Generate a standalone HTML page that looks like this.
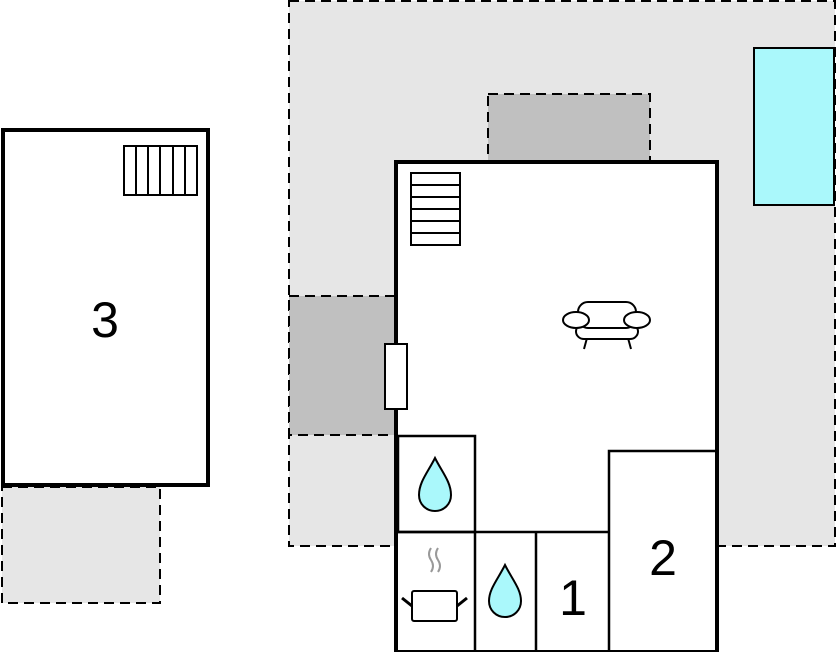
<!DOCTYPE html>
<html><head><meta charset="utf-8"><style>
html,body{margin:0;padding:0;background:#fff;}
svg{display:block;}
text{font-family:"Liberation Sans",sans-serif;fill:#000;}
</style></head><body>
<svg width="836" height="652" viewBox="0 0 836 652" xmlns="http://www.w3.org/2000/svg">
<!-- big terrace area -->
<rect x="289" y="1" width="546" height="545" fill="#e6e6e6" stroke="#000" stroke-width="2" stroke-dasharray="10,6"/>
<rect x="488" y="94" width="162" height="68" fill="#c0c0c0" stroke="#000" stroke-width="2" stroke-dasharray="10,6"/>
<rect x="289" y="296" width="108" height="139" fill="#c0c0c0" stroke="#000" stroke-width="2" stroke-dasharray="10,6"/>
<rect x="754" y="48" width="80" height="157" fill="#aaf8fb" stroke="#000" stroke-width="2"/>
<!-- main house -->
<rect x="396" y="162" width="321" height="490" fill="#fff" stroke="#000" stroke-width="4"/>
<!-- stairs -->
<rect x="411" y="173" width="49" height="72" fill="#fff" stroke="#000" stroke-width="2"/>
<g stroke="#000" stroke-width="2">
<line x1="411" y1="185" x2="460" y2="185"/><line x1="411" y1="197" x2="460" y2="197"/>
<line x1="411" y1="209" x2="460" y2="209"/><line x1="411" y1="221" x2="460" y2="221"/>
<line x1="411" y1="233" x2="460" y2="233"/>
</g>
<!-- door -->
<rect x="385" y="344" width="22" height="65" fill="#fff" stroke="#000" stroke-width="2"/>
<!-- sofa -->
<g fill="#fff" stroke="#000" stroke-width="2">
<line x1="587" y1="338" x2="584" y2="349"/><line x1="628" y1="338" x2="631" y2="349"/>
<rect x="576" y="324" width="62" height="15" rx="8"/>
<rect x="578" y="302" width="58" height="26" rx="10"/>
<ellipse cx="576" cy="320" rx="13" ry="8"/>
<ellipse cx="637" cy="320" rx="13" ry="8"/>
</g>
<!-- inner rooms -->
<g fill="none" stroke="#000" stroke-width="2.5">
<rect x="398" y="436" width="77" height="96"/>
<line x1="398" y1="532" x2="609" y2="532"/>
<line x1="475" y1="532" x2="475" y2="650"/>
<line x1="536" y1="532" x2="536" y2="650"/>
<rect x="609" y="451" width="108" height="201"/>
</g>
<!-- drops -->
<g fill="#aaf8fb" stroke="#000" stroke-width="2">
<path d="M435 458 C428 472 419 482 419 495 C419 504 426 511 435 511 C444 511 451 504 451 495 C451 482 442 472 435 458 Z"/>
<path d="M505 565 C498 579 489 589 489 601 C489 610 496 617 505 617 C514 617 521 610 521 601 C521 589 512 579 505 565 Z"/>
</g>
<!-- pot -->
<g fill="none">
<path d="M431 548 q-4 6 0 12 q4 6 0 12 M438 548 q-4 6 0 12 q4 6 0 12" stroke="#999" stroke-width="2"/>
<rect x="412" y="591" width="45" height="30" rx="2" fill="#fff" stroke="#000" stroke-width="2"/>
<line x1="402" y1="598" x2="412" y2="606" stroke="#000" stroke-width="3"/>
<line x1="457" y1="606" x2="467" y2="598" stroke="#000" stroke-width="3"/>
</g>
<text x="573" y="615" font-size="50" text-anchor="middle">1</text>
<text x="663" y="575" font-size="50" text-anchor="middle">2</text>
<!-- building 3 -->
<rect x="2" y="487" width="158" height="116" fill="#e6e6e6" stroke="#000" stroke-width="2" stroke-dasharray="10,6"/>
<rect x="3" y="130" width="205" height="355" fill="#fff" stroke="#000" stroke-width="4"/>
<rect x="124" y="146" width="73" height="49" fill="#fff" stroke="#000" stroke-width="2"/>
<g stroke="#000" stroke-width="2">
<line x1="136" y1="146" x2="136" y2="195"/><line x1="148" y1="146" x2="148" y2="195"/>
<line x1="160" y1="146" x2="160" y2="195"/><line x1="173" y1="146" x2="173" y2="195"/>
<line x1="185" y1="146" x2="185" y2="195"/>
</g>
<text x="105" y="337" font-size="50" text-anchor="middle">3</text>
</svg>
</body></html>
